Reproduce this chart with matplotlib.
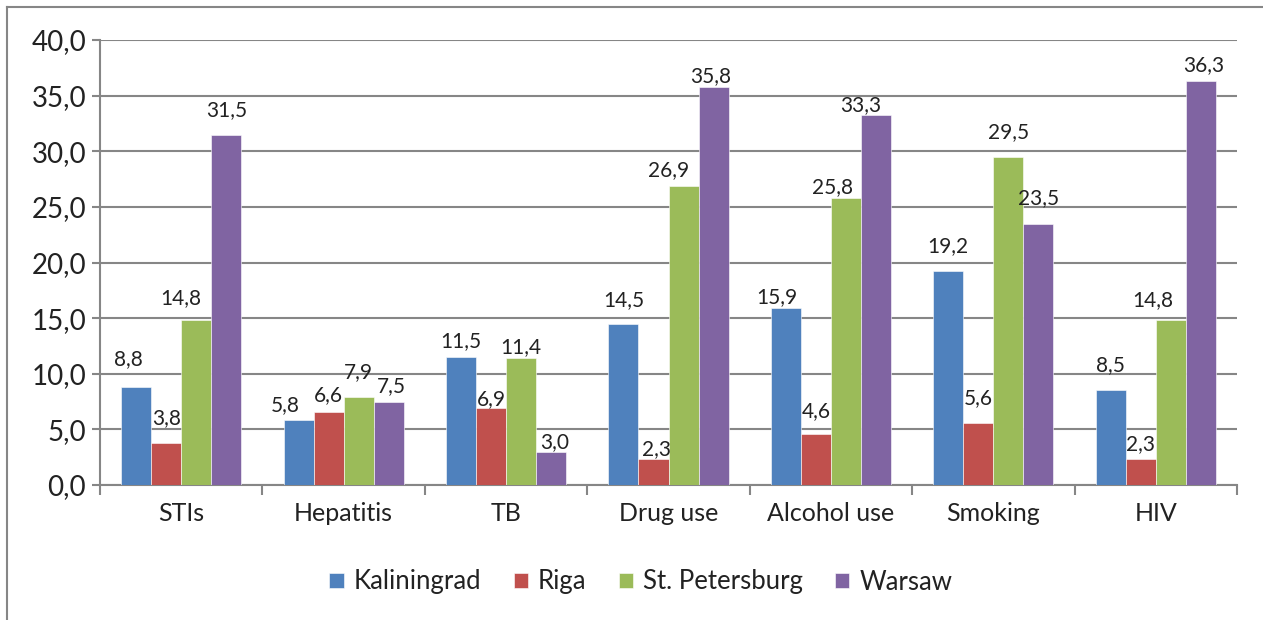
import matplotlib.pyplot as plt
import numpy as np
from matplotlib.lines import Line2D

# categories and values
categories = ['STIs', 'Hepatitis', 'TB', 'Drug use', 'Alcohol use', 'Smoking', 'HIV']
cities = ['Kaliningrad', 'Riga', 'St. Petersburg', 'Warsaw']
kaliningrad = [8.8, 5.8, 11.5, 14.5, 15.9, 19.2, 8.5]
riga = [3.8, 6.6, 6.9, 2.3, 4.6, 5.6, 2.3]
st_petersburg = [14.8, 7.9, 11.4, 26.9, 25.8, 29.5, 14.8]
warsaw = [31.5, 7.5, 3.0, 35.8, 33.3, 23.5, 36.3]
colors = ['#4F81BD', '#C0504D', '#9BBB59', '#8064A2']

# label placement in the original was hand-tweaked: (dx, gap above bar) in pixels, per city
label_dx = [[-8, -13, 0, 0, -9, 0, 0],
            [0, 0, 0, 3, 0, 0, 0],
            [-15, 0, 0, -15, -13, 0, -18],
            [0, 3, 4, -3, -15, 0, 3]]
label_gap = [[22, 9, 10, 18, 5, 19, 19],
             [19, 10, 3, 4, 17, 19, 9],
             [16, 19, 5, 10, 5, 19, 14],
             [18, 9, 4, 5, 3, 19, 10]]

plt.rcParams['font.family'] = ['Lato', 'DejaVu Sans']

fig = plt.figure(figsize=(12.63, 6.2), dpi=100)
ax = fig.add_axes([100 / 1263, 1 - 485 / 620, 1137 / 1263, 445 / 620])

x = np.arange(len(categories))
width = 0.185
series = [kaliningrad, riga, st_petersburg, warsaw]
for i, (vals, name, c) in enumerate(zip(series, cities, colors)):
    pos = x + (i - 1.5) * width
    bars = ax.bar(pos, vals, width, color=c, label=name, edgecolor='white', linewidth=0.4, zorder=3)
    for j, (b, v) in enumerate(zip(bars, vals)):
        ax.annotate(f'{v:.1f}'.replace('.', ','), (b.get_x() + b.get_width() / 2, v),
                    xytext=(label_dx[i][j], label_gap[i][j]), textcoords='offset pixels',
                    ha='center', va='baseline', fontsize=15, color='#222222', zorder=4)

ax.set_xlim(-0.5, len(categories) - 0.5)
ax.set_ylim(0, 40)
ax.set_yticks(np.arange(0, 41, 5))
ax.set_yticklabels([f'{v:.1f}'.replace('.', ',') for v in np.arange(0, 41, 5)], fontsize=20)
ax.yaxis.grid(True, color='#868686', linewidth=1.5, zorder=0)

# category labels centered, ticks on boundaries
ax.set_xticks(np.arange(-0.5, len(categories)))
ax.set_xticklabels([])
ax.set_xticks(x, minor=True)
ax.set_xticklabels(categories, minor=True, fontsize=18, color='#222222')
ax.tick_params(axis='x', which='minor', length=0, pad=12)
ax.tick_params(axis='x', which='major', length=7, width=1.5, color='#868686')
ax.tick_params(axis='y', length=6, width=1.5, color='#868686', pad=4, labelcolor='#222222')

for s in ['top', 'right']:
    ax.spines[s].set_visible(False)
for s in ['left', 'bottom']:
    ax.spines[s].set_color('#868686')
    ax.spines[s].set_linewidth(1.5)

leg = fig.legend(loc='center', bbox_to_anchor=(641 / 1263, 1 - 582 / 620), ncol=4,
                 frameon=False, fontsize=18.5, handlelength=0.55, handleheight=0.55,
                 handletextpad=0.4, columnspacing=1.25)
for t in leg.get_texts():
    t.set_color('#222222')

# chart border
fig.add_artist(Line2D([7 / 1263, 1], [1 - 7 / 620, 1 - 7 / 620], color='#868686', linewidth=1.5))
fig.add_artist(Line2D([7 / 1263, 7 / 1263], [0, 1 - 7 / 620], color='#868686', linewidth=1.5))

fig.savefig('out.png', dpi=100)
